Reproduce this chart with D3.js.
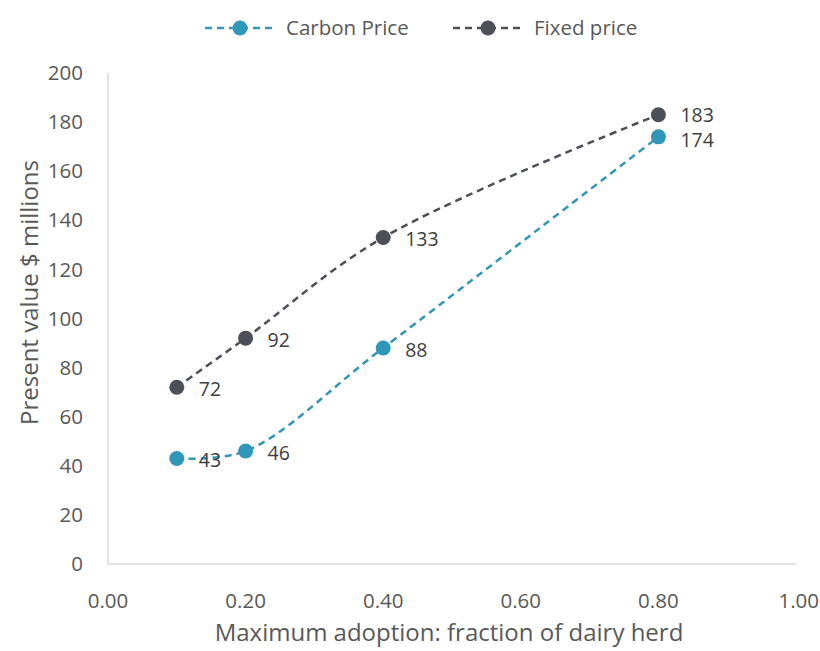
<!DOCTYPE html>
<html>
<head>
<meta charset="utf-8">
<script src="https://cdn.jsdelivr.net/npm/d3@7"></script>
<style>
  body { margin: 0; background: #fff; }
  svg { display: block; font-family: "Open Sans", Lato, sans-serif; }
</style>
</head>
<body>
<svg id="chart" width="820" height="651"></svg>
<script>
"use strict";

// data
const adoption     = [0.1, 0.2, 0.4, 0.8];
const carbonPrice  = [43, 46, 88, 174];
const fixedPrice   = [72, 92, 133, 183];
const seriesNames  = ["Carbon Price", "Fixed price"];
const xTicks       = [0, 0.2, 0.4, 0.6, 0.8, 1.0];
const yTicks       = [0, 20, 40, 60, 80, 100, 120, 140, 160, 180, 200];

const colors = ["#3197b9", "#4a4f58"];
const textColor = "#595959";

const margin = { top: 73, right: 24, bottom: 87, left: 108 };
const width  = 820, height = 651;

const svg = d3.select("#chart");

const x = d3.scaleLinear().domain([0, 1]).range([margin.left, width - margin.right]);
const y = d3.scaleLinear().domain([0, 200]).range([height - margin.bottom, margin.top]);

// axes lines
svg.append("line")
   .attr("x1", x(0)).attr("x2", x(1))
   .attr("y1", y(0)).attr("y2", y(0))
   .attr("stroke", "#d9d9d9").attr("stroke-width", 1.5);
svg.append("line")
   .attr("x1", x(0)).attr("x2", x(0))
   .attr("y1", y(0)).attr("y2", y(200))
   .attr("stroke", "#d9d9d9").attr("stroke-width", 1.5);

// y tick labels
svg.append("g").selectAll("text")
   .data(yTicks).enter().append("text")
   .attr("x", x(0) - 25)
   .attr("y", (d) => y(d))
   .attr("dy", "0.35em")
   .attr("text-anchor", "end")
   .attr("font-size", 20.5)
   .attr("fill", textColor)
   .text((d) => d);

// x tick labels (last one kept inside the frame)
svg.append("g").selectAll("text")
   .data(xTicks).enter().append("text")
   .attr("x", (d) => d === 1 ? width - 1 : x(d))
   .attr("y", y(0) + 44)
   .attr("text-anchor", (d) => d === 1 ? "end" : "middle")
   .attr("font-size", 20.5)
   .attr("fill", textColor)
   .text((d) => d3.format(".2f")(d));

// axis titles
svg.append("text")
   .attr("x", (x(0) + x(1)) / 2 - 3)
   .attr("y", 641)
   .attr("text-anchor", "middle")
   .attr("font-size", 24)
   .attr("fill", textColor)
   .text("Maximum adoption: fraction of dairy herd");

svg.append("text")
   .attr("transform", `translate(30, ${(y(0) + y(200)) / 2 - 26}) rotate(-90)`)
   .attr("text-anchor", "middle")
   .attr("dy", "0.35em")
   .attr("font-size", 24)
   .attr("fill", textColor)
   .text("Present value $ millions");

// series
const series = [carbonPrice, fixedPrice].map((vals, i) => ({
  name: seriesNames[i],
  color: colors[i],
  points: adoption.map((a, j) => ({ x: a, y: vals[j] }))
}));

const line = d3.line()
               .x((d) => x(d.x))
               .y((d) => y(d.y))
               .curve(d3.curveCatmullRom.alpha(0.5));

const g = svg.append("g").selectAll("g")
             .data(series.slice().reverse()).enter().append("g");

g.append("path")
 .attr("d", (d) => line(d.points))
 .attr("fill", "none")
 .attr("stroke", (d) => d.color)
 .attr("stroke-width", 2.5)
 .attr("stroke-dasharray", "7,5");

g.selectAll("circle")
 .data((d) => d.points.map((p) => ({ ...p, color: d.color })))
 .enter().append("circle")
 .attr("cx", (d) => x(d.x))
 .attr("cy", (d) => y(d.y))
 .attr("r", 7.5)
 .attr("fill", (d) => d.color);

// data labels; the two labels at 0.80 sit close, so nudge them apart a little
g.selectAll("text")
 .data((d, i) => d.points.map((p) => ({ ...p, top: i === 0 })))
 .enter().append("text")
 .attr("x", (d) => x(d.x) + 22)
 .attr("y", (d) => y(d.y) + (d.x === 0.8 ? (d.top ? 0 : 3) : 2))
 .attr("dy", "0.35em")
 .attr("font-size", 19.5)
 .attr("fill", "#404040")
 .text((d) => d.y);

// legend
const legend = svg.append("g").selectAll("g")
                  .data(series).enter().append("g")
                  .attr("transform", (d, i) => `translate(${[205, 453][i]}, 28)`);

legend.append("line")
      .attr("x1", 0).attr("x2", 70)
      .attr("stroke", (d) => d.color)
      .attr("stroke-width", 2.5)
      .attr("stroke-dasharray", "7,5");
legend.append("circle")
      .attr("cx", 35).attr("r", 7.5)
      .attr("fill", (d) => d.color);
legend.append("text")
      .attr("x", 81)
      .attr("dy", "0.35em")
      .attr("font-size", 20.5)
      .attr("fill", textColor)
      .text((d) => d.name);
</script>
</body>
</html>
